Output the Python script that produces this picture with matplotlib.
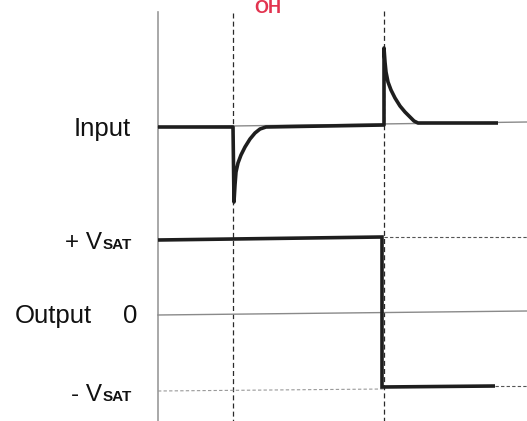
import matplotlib
matplotlib.use('Agg')
import matplotlib.pyplot as plt

plt.rcParams['font.family'] = ['Liberation Sans', 'DejaVu Sans']

# time axis positions (edges where input crosses)
t_axis = 158
t_edges = [233, 384]
t_end = 527

# input waveform (thick trace)
input_t = [158, 233, 233, 234, 235, 236, 238, 241, 245, 250, 255, 260, 266,
           384, 384, 385, 386, 388, 391, 395, 400, 405, 410, 414, 418, 498]
input_v = [127, 127, 127, 202, 185, 172, 163, 155, 147, 139, 133, 129, 127,
           125, 48, 62, 72, 82, 90, 98, 106, 112, 117, 121, 123, 123]

# input reference line (thin)
ref_t = [158, 527]
ref_v = [127, 122]

# output waveform
out_t = [158, 382, 382, 495]
out_v = [240, 237, 387, 386]
vsat_pos, vsat_neg, vzero = 237, 389, 313

C_DARK = '#1e1e1e'
C_THIN = '#8a8a8a'
C_RED = '#e2334f'

fig = plt.figure(figsize=(5.27, 4.21), dpi=100)
ax = fig.add_axes([0, 0, 1, 1])
ax.set_xlim(0, 527)
ax.set_ylim(421, 0)
ax.axis('off')

# vertical axis line
ax.plot([t_axis, t_axis], [12, 421], color='#9a9a9a', lw=1.2)
# dashed edge markers
for te, top in zip(t_edges, [13, 11]):
    ax.plot([te, te], [top, 421], color='#2a2a2a', lw=0.9, ls=(0, (4, 2.5)))

# thin reference lines
ax.plot(ref_t, ref_v, color=C_THIN, lw=1.0)
ax.plot([t_axis, t_end], [315, 311], color=C_THIN, lw=1.0)
ax.plot([t_edges[1], t_end], [vsat_pos, vsat_pos], color='#555555', lw=0.8, ls=(0, (3, 2)))
ax.plot([t_axis, t_edges[1]], [391, vsat_neg], color='#999999', lw=0.8, ls=(0, (3, 2)))
ax.plot([495, t_end], [386, 386], color='#555555', lw=0.8, ls=(0, (3, 2)))

# thick traces
ax.plot(input_t, input_v, color=C_DARK, lw=2.6, solid_joinstyle='round', solid_capstyle='butt')
ax.plot(out_t, out_v, color=C_DARK, lw=2.6, solid_joinstyle='miter', solid_capstyle='butt')

# labels
ax.text(131, 136, 'Input', fontsize=18.5, ha='right', va='baseline', color='#111111')
ax.text(92, 323, 'Output', fontsize=18.5, ha='right', va='baseline', color='#111111')
ax.text(137, 323, '0', fontsize=18.5, ha='right', va='baseline', color='#111111')
for y, sign in [(249, '+ V'), (401, '- V')]:
    ax.text(102, y, sign, fontsize=17.5, ha='right', va='baseline', color='#111111')
    ax.text(103, y, 'SAT', fontsize=11, fontweight='bold', ha='left', va='baseline', color='#111111')

# red heading at the top (clipped in the source; kept inside the canvas here)
ax.text(268, 13, 'OH', fontsize=13, ha='center', va='baseline', color=C_RED, fontweight='bold')

fig.savefig('out.png', dpi=100, facecolor='white')
